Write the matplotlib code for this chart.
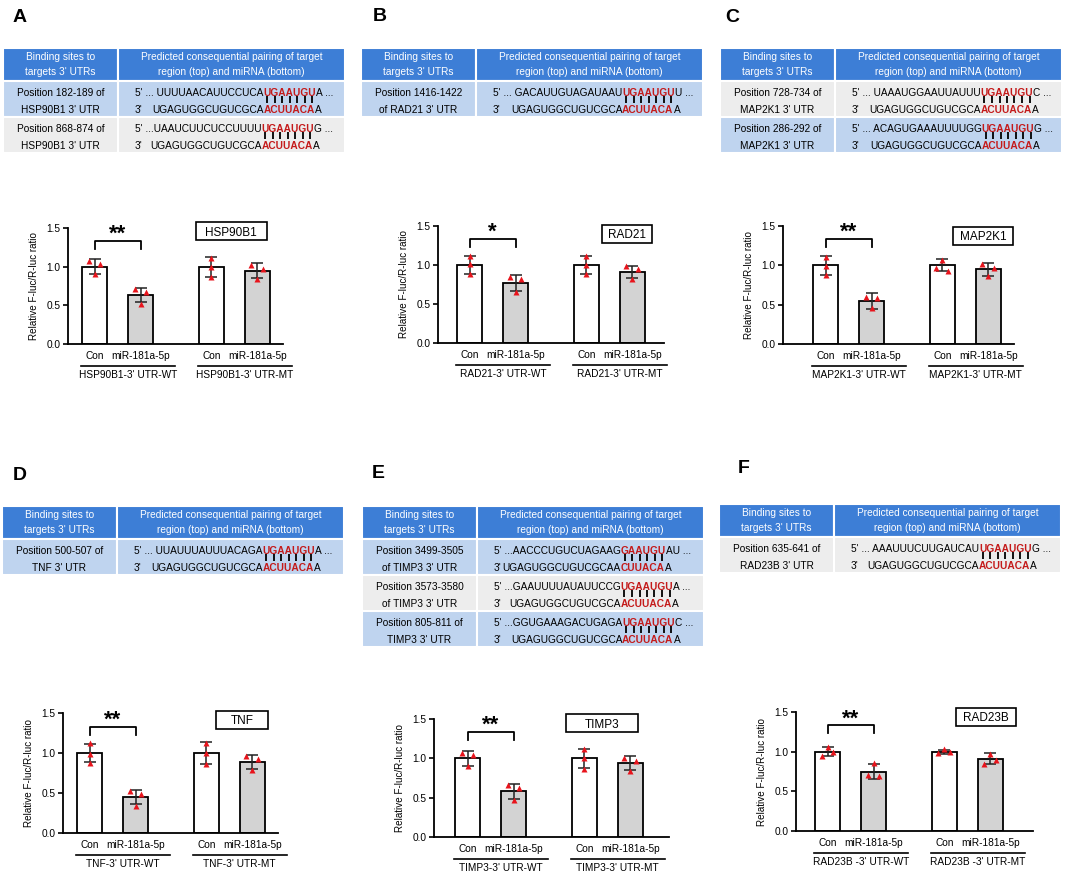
import numpy as np
import matplotlib.pyplot as plt
from matplotlib.patches import Rectangle
from matplotlib.font_manager import FontProperties

plt.rcParams['font.family'] = ['Liberation Sans', 'DejaVu Sans']

# ---------------- data ----------------
panels = ['A', 'B', 'C', 'D', 'E', 'F']
genes = ['HSP90B1', 'RAD21', 'MAP2K1', 'TNF', 'TIMP3', 'RAD23B']
wt_labels = ["HSP90B1-3' UTR-WT", "RAD21-3' UTR-WT", "MAP2K1-3' UTR-WT",
             "TNF-3' UTR-WT", "TIMP3-3' UTR-WT", "RAD23B -3' UTR-WT"]
mt_labels = ["HSP90B1-3' UTR-MT", "RAD21-3' UTR-MT", "MAP2K1-3' UTR-MT",
             "TNF-3' UTR-MT", "TIMP3-3' UTR-MT", "RAD23B -3' UTR-MT"]
groups = ['Con', 'miR-181a-5p']

# bar order: Con-WT, miR-WT, Con-MT, miR-MT
means = [[1.00, 0.63, 0.99, 0.95],
         [1.00, 0.77, 1.00, 0.91],
         [1.00, 0.55, 1.00, 0.95],
         [1.00, 0.45, 1.00, 0.89],
         [1.00, 0.58, 1.00, 0.94],
         [1.00, 0.75, 1.00, 0.91]]
sds = [[0.10, 0.09, 0.13, 0.095],
       [0.11, 0.10, 0.115, 0.08],
       [0.12, 0.10, 0.075, 0.08],
       [0.11, 0.09, 0.135, 0.09],
       [0.095, 0.095, 0.12, 0.085],
       [0.06, 0.09, 0.025, 0.07]]
points = [[[1.07, 1.03, 0.90], [0.71, 0.67, 0.52], [1.11, 0.99, 0.86], [1.02, 0.97, 0.84]],
          [[1.11, 1.01, 0.89], [0.85, 0.82, 0.66], [1.11, 1.00, 0.88], [0.99, 0.95, 0.82]],
          [[1.11, 0.99, 0.88], [0.60, 0.58, 0.46], [1.07, 0.93, 0.97], [1.02, 0.97, 0.86]],
          [[1.12, 0.99, 0.88], [0.52, 0.49, 0.34], [1.12, 1.00, 0.86], [0.96, 0.92, 0.79]],
          [[1.07, 1.04, 0.90], [0.66, 0.62, 0.47], [1.12, 1.00, 0.87], [1.01, 0.96, 0.84]],
          [[1.06, 0.94, 1.00], [0.855, 0.69, 0.71], [1.03, 0.98, 1.00], [0.97, 0.90, 0.85]]]
stars = ['**', '*', '**', '**', '**', '**']

# binding-site tables
sites = [[("Position 182-189 of", "HSP90B1 3' UTR"), ("Position 868-874 of", "HSP90B1 3' UTR")],
         [("Position 1416-1422", "of RAD21 3' UTR")],
         [("Position 728-734 of", "MAP2K1 3' UTR"), ("Position 286-292 of", "MAP2K1 3' UTR")],
         [("Position 500-507 of", "TNF 3' UTR")],
         [("Position 3499-3505", "of TIMP3 3' UTR"), ("Position 3573-3580", "of TIMP3 3' UTR"),
          ("Position 805-811 of", "TIMP3 3' UTR")],
         [("Position 635-641 of", "RAD23B 3' UTR")]]
seq_top = [[("5' ... UUUUAACAUUCCUCA", "UGAAUGU", "A ..."), ("5' ...UAAUCUUCUCCUUUU", "UGAAUGU", "G ...")],
           [("5' ... GACAUUGUAGAUAAU", "UGAAUGU", "U ...")],
           [("5' ... UAAAUGGAAUUAUUU", "UGAAUGU", "C ..."), ("5' ... ACAGUGAAAUUUUGG", "UGAAUGU", "G ...")],
           [("5' ... UUAUUUAUUUACAGA", "UGAAUGU", "A ...")],
           [("5' ...AACCCUGUCUAGAAG", "GAAUGU", "AU ..."), ("5' ...GAAUUUUAUAUUCCG", "UGAAUGU", "A ..."),
            ("5' ...GGUGAAAGACUGAGA", "UGAAUGU", "C ...")],
           [("5' ... AAAUUUCUUGAUCAU", "UGAAUGU", "G ...")]]
mir = ("UGAGUGGCUGUCGCA", "ACUUACA", "A")
mir_e1 = ("UGAGUGGCUGUCGCAA", "CUUACA", "A")
seq_bottom = [[mir, mir], [mir], [mir, mir], [mir], [mir_e1, mir, mir], [mir]]
shade = [['blue', 'gray'], ['blue'], ['gray', 'blue'], ['blue'], ['blue', 'gray', 'blue'], ['gray']]

# ---------------- layout (pixels) ----------------
W, H = 1065, 881
label_pos = [(13, 22), (373, 21), (725, 22), (13, 480), (372, 478), (738, 473)]
table_x = [3, 361, 720, 2, 362, 719]
table_y = [48, 48, 48, 506, 506, 504]
table_w, col1_w, head_h, row_h = 342, 115, 33, 36
ax_box = [(68, 228, 283, 344), (438, 226, 664, 343), (783, 226, 1014, 344),
          (63, 713, 278, 833), (434, 719, 669, 837), (796, 712, 1033, 831)]
con_px = [94.5, 469.5, 825.5, 89.5, 467.5, 827.5]
gene_box = [(231, 231, 71), (627, 234, 50), (983, 236, 60),
            (242, 719.5, 52), (602, 723, 72), (986, 716.5, 60)]
unit_px = 46.0
pos = np.array([0, 1, 2.54, 3.54])

BLUE = '#3d7ed6'
SHADES = {'blue': '#bfd4ef', 'gray': '#ededed'}
RED_SEQ = '#c41a1a'
RED_PT = '#e8141c'
FS = 7.3

fig = plt.figure(figsize=(W / 100, H / 100), dpi=100)
cv = fig.add_axes([0, 0, 1, 1])
cv.set_xlim(0, W)
cv.set_ylim(H, 0)
cv.axis('off')

renderer = fig.canvas.get_renderer()
fp_n = FontProperties(family='Liberation Sans', size=FS)
fp_b = FontProperties(family='Liberation Sans', size=FS, weight='bold')


def tw(s, fp):
    if not s:
        return 0.0
    return renderer.get_text_width_height_descent(s, fp, ismath=False)[0]


def draw_table(k):
    x0, y0 = table_x[k], table_y[k]
    xs = x0 + col1_w
    w2 = table_w - col1_w
    cv.add_patch(Rectangle((x0, y0), col1_w, head_h, fc=BLUE, ec='white', lw=1.5))
    cv.add_patch(Rectangle((xs, y0), w2, head_h, fc=BLUE, ec='white', lw=1.5))
    for txt, frac in [('Binding sites to', 0.25), ("targets 3' UTRs", 0.70)]:
        cv.text(x0 + col1_w / 2, y0 + frac * head_h, txt, fontproperties=fp_n,
                color='white', ha='center', va='center_baseline')
    for txt, frac in [('Predicted consequential pairing of target', 0.25),
                      ('region (top) and miRNA (bottom)', 0.70)]:
        cv.text(xs + w2 / 2, y0 + frac * head_h, txt, fontproperties=fp_n,
                color='white', ha='center', va='center_baseline')
    for r, (site, top, bot, sh) in enumerate(zip(sites[k], seq_top[k], seq_bottom[k], shade[k])):
        ry = y0 + head_h + r * row_h
        fc = SHADES[sh]
        cv.add_patch(Rectangle((x0, ry), col1_w, row_h, fc=fc, ec='white', lw=1.5))
        cv.add_patch(Rectangle((xs, ry), w2, row_h, fc=fc, ec='white', lw=1.5))
        y1, y2 = ry + 0.31 * row_h, ry + 0.79 * row_h
        cv.text(x0 + col1_w / 2, y1, site[0], fontproperties=fp_n, ha='center', va='center_baseline')
        cv.text(x0 + col1_w / 2, y2, site[1], fontproperties=fp_n, ha='center', va='center_baseline')
        sx = xs + 17
        # target (top) line
        pre, red, suf = top
        cv.text(sx, y1, pre, fontproperties=fp_n, ha='left', va='center_baseline')
        xr = sx + tw(pre, fp_n)
        cv.text(xr, y1, red, fontproperties=fp_b, color=RED_SEQ, ha='left', va='center_baseline')
        cv.text(xr + tw(red, fp_b), y1, suf, fontproperties=fp_n, ha='left', va='center_baseline')
        # pairing marks under the seed letters
        for i, c in enumerate(red):
            xc = xr + tw(red[:i], fp_b) + tw(c, fp_b) / 2
            cv.plot([xc, xc], [ry + 0.42 * row_h, ry + 0.61 * row_h], color='black', lw=1.3,
                    solid_capstyle='butt')
        # miRNA (bottom) line
        bpre, bred, bsuf = bot
        cv.text(sx, y2, "3'", fontproperties=fp_n, ha='left', va='center_baseline')
        cv.text(xr, y2, bpre, fontproperties=fp_n, ha='right', va='center_baseline')
        cv.text(xr, y2, bred, fontproperties=fp_b, color=RED_SEQ, ha='left', va='center_baseline')
        cv.text(xr + tw(bred, fp_b), y2, bsuf, fontproperties=fp_n, ha='left', va='center_baseline')


def jitter(vals, gap=0.07, step=0.13):
    vals = np.asarray(vals)
    order = list(np.argsort(vals)[::-1])
    offs = np.zeros(len(vals))
    clusters = [[order[0]]]
    for i in order[1:]:
        if vals[clusters[-1][-1]] - vals[i] < gap:
            clusters[-1].append(i)
        else:
            clusters.append([i])
    for c in clusters:
        if len(c) == 2:
            offs[c[0]], offs[c[1]] = -step, step
        elif len(c) == 3:
            offs[c[0]], offs[c[1]], offs[c[2]] = 0, step, -step
    return offs


def draw_bars(k):
    l, t, r, b = ax_box[k]
    ax = fig.add_axes([l / W, 1 - b / H, (r - l) / W, (b - t) / H])
    ax.patch.set_alpha(0)
    ax_h = b - t
    ax.set_xlim((l - con_px[k]) / unit_px, (r - con_px[k]) / unit_px)
    ax.set_ylim(0, 1.5)
    for s in ['top', 'right']:
        ax.spines[s].set_visible(False)
    for s in ['left', 'bottom']:
        ax.spines[s].set_linewidth(1.3)
    ax.bar(pos, means[k], width=0.54, color=['white', '#d3d3d3', 'white', '#d3d3d3'],
           edgecolor='black', linewidth=1.3, zorder=2)
    ax.errorbar(pos, means[k], yerr=sds[k], fmt='none', ecolor='#222222', elinewidth=1.1,
                capsize=4.2, capthick=1.1, zorder=3)
    for p, vals in zip(pos, points[k]):
        ax.plot(p + jitter(vals), vals, '^', color=RED_PT, ms=4.8, mec='none', zorder=4,
                clip_on=False)
    ax.set_yticks([0, 0.5, 1.0, 1.5])
    ax.set_yticklabels(['0.0', '0.5', '1.0', '1.5'], fontsize=FS)
    ax.tick_params(axis='y', length=3.5, width=1.2, pad=2)
    ax.set_xticks(pos)
    ax.set_xticklabels(groups * 2, fontsize=FS)
    ax.tick_params(axis='x', length=0, pad=5)
    ax.set_ylabel('Relative F-luc/R-luc ratio', fontsize=7.1, labelpad=5)
    # significance bracket
    ax.plot([pos[0], pos[0], pos[1], pos[1]], [1.23, 1.33, 1.33, 1.23], color='black',
            lw=1.3, clip_on=False)
    ax.text((pos[0] + pos[1]) / 2, 1.345, stars[k], fontsize=16, fontweight='bold',
            ha='center', va='baseline')
    # group underline and labels
    tr = ax.get_xaxis_transform()
    for (p0, p1), lab in [((pos[0], pos[1]), wt_labels[k]), ((pos[2], pos[3]), mt_labels[k])]:
        xa, xb = p0 - 0.3, p1 + 0.75
        ax.plot([xa, xb], [-22 / ax_h] * 2, color='black', lw=1.2, transform=tr, clip_on=False)
        ax.text((xa + xb) / 2, -31 / ax_h, lab, fontsize=FS, ha='center', va='center',
                transform=tr)
    # gene name box
    cx, cy, bw = gene_box[k]
    cv.add_patch(Rectangle((cx - bw / 2, cy - 9), bw, 18, fc='white', ec='black', lw=1.2))
    cv.text(cx, cy, genes[k], fontsize=8.5, ha='center', va='center_baseline')


for k, lab in enumerate(panels):
    cv.text(label_pos[k][0], label_pos[k][1], lab, fontsize=14, fontweight='bold',
            ha='left', va='baseline')
    draw_table(k)
    draw_bars(k)

fig.savefig('out.png', dpi=100)
